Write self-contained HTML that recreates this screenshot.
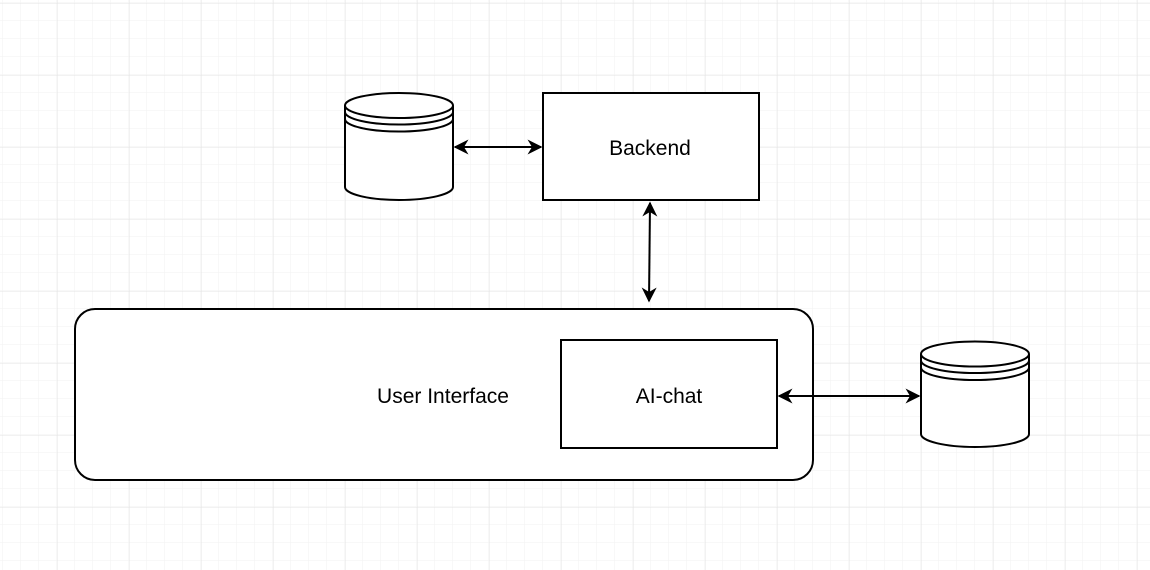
<!DOCTYPE html>
<html><head><style>
html,body{margin:0;padding:0;background:#fff;}
svg{display:block;}
text{font-family:"Liberation Sans",Arial,sans-serif;font-size:21px;fill:#000;}
</style></head><body>
<svg width="1150" height="570" viewBox="0 0 1150 570" xmlns="http://www.w3.org/2000/svg">
<defs>
<pattern id="minor" width="18" height="18" patternUnits="userSpaceOnUse" x="3" y="3">
<path d="M18 0V18M0 18H18" fill="none" stroke="#f2f2f2" stroke-width="1"/>
</pattern>
<pattern id="major" width="72" height="72" patternUnits="userSpaceOnUse" x="-15" y="3">
<path d="M0 0V72M0 0H72" fill="none" stroke="#e4e4e4" stroke-width="1"/>
</pattern>
<marker id="ah" viewBox="0 0 10 10" refX="9" refY="5" markerWidth="15" markerHeight="15" markerUnits="userSpaceOnUse" orient="auto-start-reverse">
<path d="M0 0L10 5L0 10L3 5Z" fill="#000"/>
</marker>
</defs>
<rect width="1150" height="570" fill="url(#minor)"/>
<rect width="1150" height="570" fill="url(#major)"/>
<g fill="#fff" stroke="#000" stroke-width="2">
<path d="M345 105.5V187A54 13 0 0 0 453 187V105.5"/>
<ellipse cx="399" cy="105.5" rx="54" ry="12.5"/>
<path d="M345 112A54 12.5 0 0 0 453 112" fill="none"/>
<path d="M345 119A54 12.5 0 0 0 453 119" fill="none"/>
<path d="M921 354V434A54 13 0 0 0 1029 434V354"/>
<ellipse cx="975" cy="354" rx="54" ry="12.5"/>
<path d="M921 360.5A54 12.5 0 0 0 1029 360.5" fill="none"/>
<path d="M921 367.5A54 12.5 0 0 0 1029 367.5" fill="none"/>
<rect x="543" y="93" width="216" height="107"/>
<rect x="75" y="309" width="738" height="171" rx="20" ry="20"/>
<rect x="561" y="340" width="216" height="108"/>
</g>
<g stroke="#000" stroke-width="2" fill="none">
<line x1="455" y1="147" x2="541" y2="147" marker-start="url(#ah)" marker-end="url(#ah)"/>
<line x1="650" y1="203" x2="649" y2="301" marker-start="url(#ah)" marker-end="url(#ah)"/>
<line x1="779" y1="396" x2="919" y2="396" marker-start="url(#ah)" marker-end="url(#ah)"/>
</g>
<text x="650" y="155" text-anchor="middle">Backend</text>
<text x="443" y="403" text-anchor="middle">User Interface</text>
<text x="669" y="403" text-anchor="middle">AI-chat</text>
</svg>
</body></html>
